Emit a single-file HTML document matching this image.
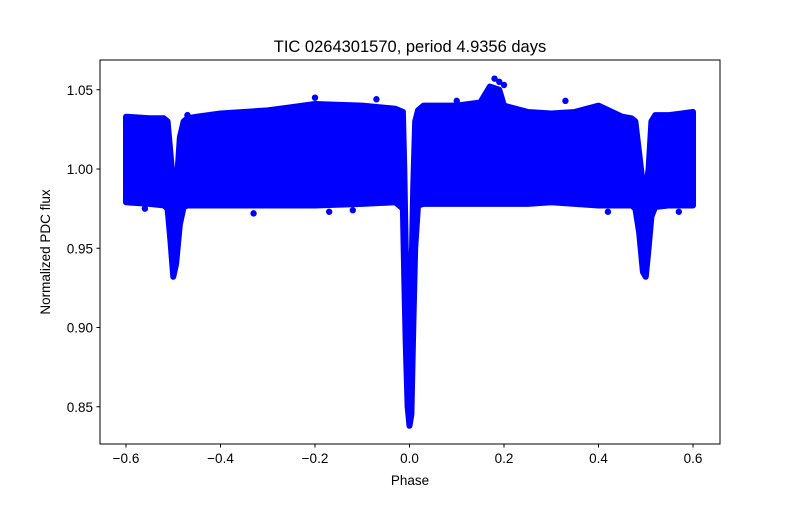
<!DOCTYPE html>
<html><head><meta charset="utf-8"><style>
body{margin:0;background:#fff}
svg text{font-family:"Liberation Sans",sans-serif;fill:#000}
</style></head><body>
<svg width="800" height="500" viewBox="0 0 800 500">
<rect width="800" height="500" fill="#fff"/>
<text x="410" y="52" font-size="16.5" text-anchor="middle">TIC 0264301570, period 4.9356 days</text>
<g id="plot"></g>
<rect x="100" y="60" width="620" height="384" fill="none" stroke="#000" stroke-width="1"/>
<g id="xt"></g><g id="yt"></g>
<text x="410" y="485" font-size="13.5" text-anchor="middle">Phase</text>
<text transform="translate(50,252) rotate(-90)" font-size="13.5" text-anchor="middle">Normalized PDC flux</text>
</svg>
<script>
const phases=[-0.6,-0.55,-0.52,-0.512,-0.506,-0.5,-0.494,-0.486,-0.478,-0.47,-0.45,-0.4,-0.3,-0.25,-0.2,-0.1,-0.03,-0.014,-0.011,-0.008,-0.004,0,0.004,0.008,0.012,0.018,0.03,0.1,0.15,0.17,0.19,0.2,0.25,0.3,0.35,0.4,0.45,0.47,0.478,0.486,0.494,0.5,0.506,0.512,0.52,0.55,0.6];
const upperFlux=[1.033,1.032,1.032,1.030,1.01,0.99,0.985,1.02,1.03,1.032,1.033,1.035,1.037,1.039,1.041,1.040,1.038,1.036,1.0,0.95,0.92,0.915,0.93,0.99,1.03,1.037,1.040,1.040,1.042,1.052,1.050,1.040,1.036,1.035,1.036,1.040,1.033,1.032,1.03,1.01,0.99,0.985,1.0,1.03,1.034,1.034,1.036];
const lowerFlux=[0.979,0.978,0.977,0.975,0.955,0.932,0.94,0.965,0.976,0.977,0.977,0.977,0.977,0.977,0.977,0.978,0.979,0.975,0.93,0.89,0.85,0.838,0.845,0.90,0.95,0.977,0.978,0.978,0.978,0.978,0.978,0.978,0.978,0.979,0.978,0.977,0.977,0.977,0.975,0.96,0.935,0.932,0.95,0.97,0.976,0.977,0.977];
const outPhase=[-0.56,-0.33,-0.17,-0.12,-0.07,0.1,0.18,0.19,0.2,0.33,0.42,0.57,-0.47,-0.2];
const outFlux=[0.975,0.972,0.973,0.974,1.044,1.043,1.057,1.055,1.053,1.043,0.973,0.973,1.034,1.045];
const xTicks=[-0.6,-0.4,-0.2,0.0,0.2,0.4,0.6];
const xTickLabels=["−0.6","−0.4","−0.2","0.0","0.2","0.4","0.6"];
const yTicks=[0.85,0.90,0.95,1.00,1.05];
const yTickLabels=["0.85","0.90","0.95","1.00","1.05"];
const X=p=>409.5+p*472.5;
const Y=f=>169-(f-1)*1585;
const NS="http://www.w3.org/2000/svg";
const plot=document.getElementById('plot');
let pts=phases.map((p,i)=>X(p)+','+Y(upperFlux[i]));
for(let i=phases.length-1;i>=0;i--)pts.push(X(phases[i])+','+Y(lowerFlux[i]));
const poly=document.createElementNS(NS,'polygon');
poly.setAttribute('points',pts.join(' '));
poly.setAttribute('fill','#0000ff');poly.setAttribute('stroke','#0000ff');
poly.setAttribute('stroke-width','6');poly.setAttribute('stroke-linejoin','round');


plot.appendChild(poly);
outPhase.forEach((p,i)=>{const c=document.createElementNS(NS,'circle');
c.setAttribute('cx',X(p));c.setAttribute('cy',Y(outFlux[i]));c.setAttribute('r','3.2');c.setAttribute('fill','#0000ff');


plot.appendChild(c);});
const xt=document.getElementById('xt');
xTicks.forEach((t,i)=>{const l=document.createElementNS(NS,'line');
l.setAttribute('x1',X(t));l.setAttribute('x2',X(t));l.setAttribute('y1',444);l.setAttribute('y2',447.5);l.setAttribute('stroke','#000');


xt.appendChild(l);
const tx=document.createElementNS(NS,'text');tx.setAttribute('x',X(t));tx.setAttribute('y',463);tx.setAttribute('font-size','13.5');tx.setAttribute('text-anchor','middle');tx.textContent=xTickLabels[i];


xt.appendChild(tx);});
const yt=document.getElementById('yt');
yTicks.forEach((t,i)=>{const l=document.createElementNS(NS,'line');
l.setAttribute('x1',96.5);l.setAttribute('x2',100);l.setAttribute('y1',Y(t));l.setAttribute('y2',Y(t));l.setAttribute('stroke','#000');


yt.appendChild(l);
const tx=document.createElementNS(NS,'text');tx.setAttribute('x',93);tx.setAttribute('y',Y(t)+5);tx.setAttribute('font-size','13.5');tx.setAttribute('text-anchor','end');tx.textContent=yTickLabels[i];


yt.appendChild(tx);});
</script>
</body></html>
